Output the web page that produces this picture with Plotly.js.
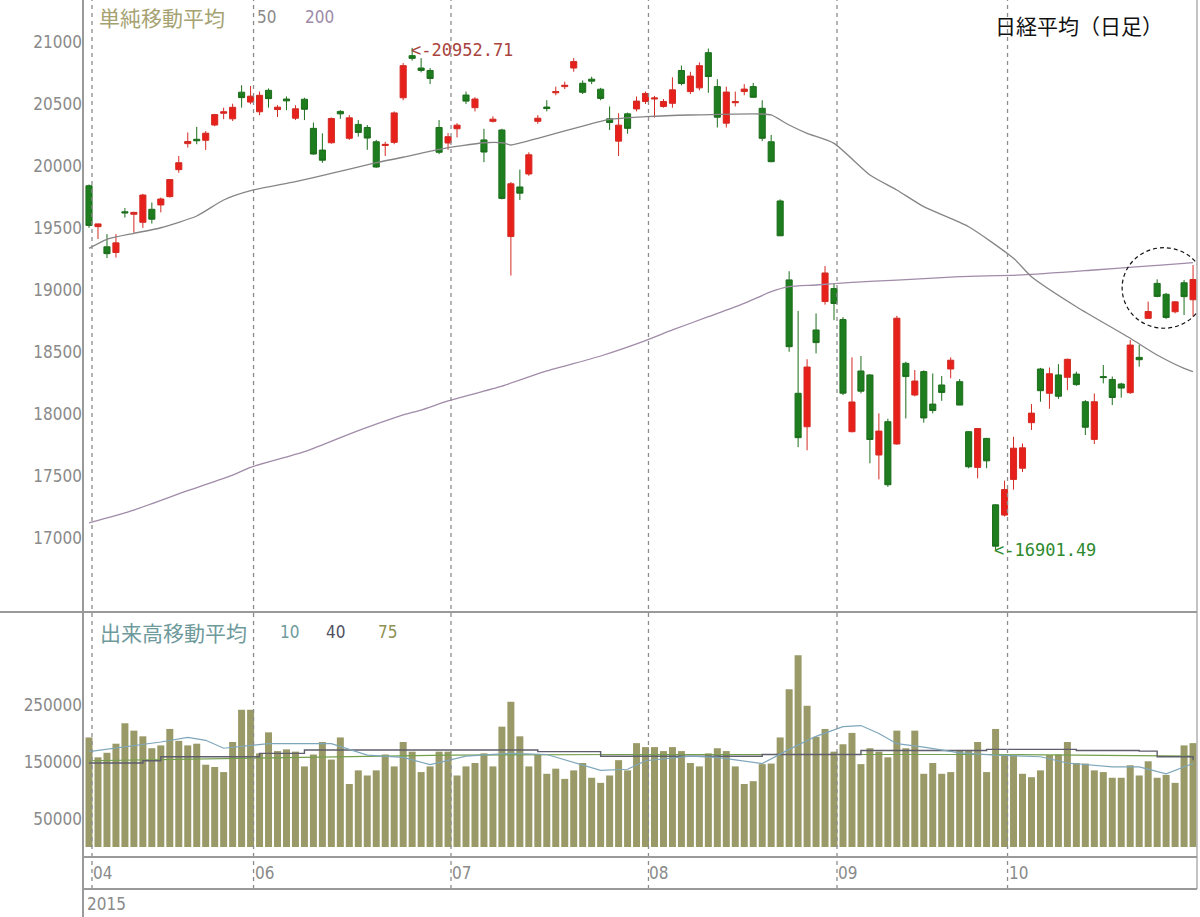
<!DOCTYPE html>
<html><head><meta charset="utf-8">
<script src="https://cdn.plot.ly/plotly-3.0.1.min.js"></script>
<style>html,body{margin:0;padding:0;background:#fff}#chart{width:1200px;height:917px}</style>
</head><body><div id="chart"></div>
<script>
// ---- trading days (category axis) ----
const tradingDays = {
  '2015-04': [30],
  '2015-05': [1,7,8,11,12,13,14,15,18,19,20,21,22,25,26,27,28,29],
  '2015-06': [1,2,3,4,5,8,9,10,11,12,15,16,17,18,19,22,23,24,25,26,29,30],
  '2015-07': [1,2,3,6,7,8,9,10,13,14,15,16,17,21,22,23,24,27,28,29,30,31],
  '2015-08': [3,4,5,6,7,10,11,12,13,14,17,18,19,20,21,24,25,26,27,28,31],
  '2015-09': [1,2,3,4,7,8,9,10,11,14,15,16,17,18,24,25,28,29,30],
  '2015-10': [1,2,5,6,7,8,9,13,14,15,16,19,20,21,22,23,26,27,28,29,30]
};
const dates = [];
Object.keys(tradingDays).forEach(m => tradingDays[m].forEach(d => dates.push(m + '-' + String(d).padStart(2,'0'))));

// ---- OHLC ----
const open  = [19840,19510,19347,19301,19630,19610,19545,19650,19685,19752,19970,20180,20215,20207,20330,20425,20380,20595,20515,
  20437,20610,20455,20540,20385,20538,20303,20128,20187,20440,20223,20335,20310,20195,20165,20190,20550,20890,20790,20770,20310,20185,
  20300,20572,20470,20210,20360,20290,19430,19830,19935,20360,20475,20590,20640,20790,20667,20700,20619,20380,20200,20420,20460,20520,
  20540,20480,20505,20770,20600,20630,20914,20640,20345,20510,20600,20640,20465,20195,19717,19080,18165,17895,18676,18905,19010,
  18760,17855,18345,18313,17667,17936,17756,18407,18151,18340,18078,18232,18361,18259,17855,17567,17801,17265,17182,
  17470,17560,17928,18361,18165,18313,18294,18320,18097,17793,18300,18276,18240,18170,18455,18770,19052,18964,18823,19057,18920];
const high  = [19850,19535,19450,19450,19660,19630,19775,19705,19745,19890,20080,20270,20315,20282,20420,20470,20502,20651,20645,
  20600,20625,20490,20560,20490,20550,20350,20263,20390,20450,20410,20370,20330,20210,20195,20440,20830,20952.71,20870,20790,20370,20265,
  20345,20600,20555,20300,20400,20300,19870,19970,20110,20410,20530,20640,20680,20870,20690,20720,20630,20480,20425,20430,20560,20600,
  20565,20540,20715,20810,20760,20835,20947,20700,20640,20600,20660,20670,20530,20250,19730,19150,18830,18440,18810,19192,19050,
  18780,18455,18466,18320,18003,17960,18790,18420,18353,18350,18325,18304,18455,18280,17860,17885,17805,17270,17460,
  17814,17760,18078,18370,18373,18400,18445,18340,18110,18163,18393,18300,18250,18595,18555,18905,19085,18975,18910,19080,19200];
const low   = [19500,19410,19256,19260,19583,19460,19500,19535,19625,19745,19945,20148,20175,20129,20320,20377,20363,20470,20498,
  20410,20470,20395,20450,20370,20370,20090,20025,20180,20380,20210,20236,20130,19985,20080,20175,20530,20850,20755,20660,20095,20130,
  20230,20500,20440,20030,20350,19730,19115,19725,19920,20340,20440,20570,20620,20760,20580,20660,20530,20290,20080,20260,20440,20500,
  20390,20470,20470,20650,20580,20610,20590,20310,20310,20480,20570,20550,20200,20030,19435,18500,17730,17705,18487,18880,18755,
  18150,17850,18165,17600,17470,17410,17750,17962,18140,17928,18003,18104,18286,18070,17560,17479,17560,16901.49,17170,
  17388,17530,17869,18097,18040,18120,18190,18225,17828,17756,18245,18070,18130,18160,18380,18765,18940,18765,18810,18797,18783];
const close = [19520,19532,19292,19379,19621,19625,19765,19570,19733,19890,20026,20197,20203,20264,20414,20437,20473,20551,20563,
  20570,20543,20474,20525,20461,20457,20096,20046,20383,20420,20388,20270,20225,19991,20174,20428,20809,20868,20771,20706,20110,20236,
  20329,20523,20540,20112,20377,19738,19856,19780,20090,20385,20463,20600,20651,20842,20594,20684,20545,20350,20329,20303,20523,20585,
  20548,20520,20614,20665,20725,20809,20721,20393,20596,20519,20620,20554,20223,20034,19436,18541,17807,18377,18574,19136,18890,
  18166,18095,18182,17792,17860,17427,18771,18300,18264,17966,18026,18172,18432,18070,17572,17881,17620,16931,17388,
  17722,17725,18005,18186,18323,18141,18439,18235,17891,18097,18292,18131,18207,18554,18436,18825,18947,18777,18903,18945,19083];

// ---- price moving averages ----
const ma50Idx = [0,2,5,8,12,15,18,23,27,32,35,39,44,46,47,50,55,58,62,67,75,76,78,80,83,87,90,93,98,103,105,110,116,119,122,123];
const ma50Val = [19335,19408,19456,19501,19596,19725,19800,19873,19940,20026,20070,20134,20187,20187,20169,20223,20322,20376,20397,20411,20419,20411,20330,20263,20182,19927,19806,19671,19509,19254,19106,18864,18609,18474,18366,18340];
const ma200Idx = [0,5,11,16,18,24,29,35,37,40,46,51,57,62,65,69,73,76,78,81,85,90,97,104,112,117,122,123];
const ma200Val = [17120,17223,17379,17505,17568,17694,17836,17990,18030,18103,18223,18345,18466,18590,18676,18783,18891,18985,19025,19039,19060,19079,19106,19120,19160,19187,19214,19220];

// ---- volume (thousands) ----
const volumeK = [193,158,166,182,218,205,195,174,179,208,187,179,182,145,141,132,185,242,242,165,
  202,169,172,168,142,163,185,154,193,111,135,126,135,163,142,185,168,132,142,168,
  168,126,142,148,165,142,212,256,195,142,163,129,138,120,135,148,122,113,126,153,
  135,183,176,176,169,176,169,148,142,165,174,169,142,111,116,146,147,193,278,338,
  249,194,208,168,181,201,146,174,168,158,205,174,205,129,148,129,132,171,171,185,
  132,208,163,163,129,123,135,162,163,185,148,147,135,132,122,122,144,126,151,122,
  127,113,179,183];
const vma10Idx = [0,5,8,11,13,15,20,27,31,35,38,42,47,51,55,57,60,62,67,70,75,78,81,84,86,88,90,93,97,101,106,109,114,117,120,123];
const vma10Val = [168,178,185,193,188,174,182,182,162,158,145,160,165,163,145,135,137,152,160,158,147,172,195,212,214,200,182,176,166,162,159,148,141,141,129,147];
const vma40Idx = [0,4,6,8,15,19,24,44,50,57,70,75,85,86,100,110,117,119,123];
const vma40Val = [148,148,152,159,159,165,171,171,168,160,160,163,163,170,172,170,169,159,153];
const vma75Idx = [0,20,40,60,80,100,123];
const vma75Val = [152,157,162,163,163,163,160];

// ---- labels ----
const monthLabels = ['04','06','07','08','09','10'];
const monthLineAfterIdx = [0,18,40,62,83,102];
const yearLabel = '2015';
const priceTicks = [17000,17500,18000,18500,19000,19500,20000,20500,21000];
const volumeTicks = [50000,150000,250000];
const highNote = {idx: 36, value: 20952.71};
const lowNote = {idx: 101, value: 16901.49};

// ---- geometry helpers (pixels -> paper) ----
const L = 83, R = 3, T = 0, B = 60, W = 1200, H = 917;
const PW = W - L - R, PH = H - T - B;
const px = p => (p - L) / PW;
const py = p => (H - B - p) / PH;
const split = py(612);

const xs = a => a.map(i => dates[i]);
const K = a => a.map(v => v * 1000);

const traces = [
  {type:'scatter', mode:'lines', x: xs(ma200Idx), y: ma200Val, xaxis:'x', yaxis:'y',
   line:{color:'#a08ca8', width:1.3, shape:'spline', smoothing:0.6}, hoverinfo:'skip'},
  {type:'scatter', mode:'lines', x: xs(ma50Idx), y: ma50Val, xaxis:'x', yaxis:'y',
   line:{color:'#858585', width:1.3, shape:'spline', smoothing:0.6}, hoverinfo:'skip'},
  {type:'candlestick', x: dates, open, high, low, close, xaxis:'x', yaxis:'y',
   increasing:{line:{color:'#d42a22', width:1}, fillcolor:'#e8201c'},
   decreasing:{line:{color:'#1c6e1c', width:1}, fillcolor:'#1e7d1e'},
   whiskerwidth:0, hoverinfo:'skip'},
  {type:'bar', x: dates, y: K(volumeK), xaxis:'x', yaxis:'y2', width:0.78,
   marker:{color:'#9a9a68', line:{width:0}}, hoverinfo:'skip'},
  {type:'scatter', mode:'lines', x: xs(vma75Idx), y: K(vma75Val), xaxis:'x', yaxis:'y2',
   line:{color:'#74a04c', width:1.2}, hoverinfo:'skip'},
  {type:'scatter', mode:'lines', x: xs(vma40Idx), y: K(vma40Val), xaxis:'x', yaxis:'y2',
   line:{color:'#5e5e6c', width:1.4, shape:'hv'}, hoverinfo:'skip'},
  {type:'scatter', mode:'lines', x: xs(vma10Idx), y: K(vma10Val), xaxis:'x', yaxis:'y2',
   line:{color:'#7ea6ba', width:1.2}, hoverinfo:'skip'}
];

const gridCol = '#9a9a9a';
const shapes = [];
monthLineAfterIdx.forEach(i => {
  shapes.push({type:'line', xref:'x', yref:'paper', x0:i+0.33, x1:i+0.33, y0:py(889), y1:1,
    line:{color:'#8c8c8c', width:1.3, dash:'4px,4px'}, layer:'above'});
});
shapes.push({type:'line', xref:'paper', yref:'paper', x0:0, x1:0, y0:py(917), y1:1, line:{color:gridCol, width:2}});
shapes.push({type:'line', xref:'paper', yref:'paper', x0:1, x1:1, y0:py(889), y1:1, line:{color:'#b0b0b0', width:1.5}});
shapes.push({type:'line', xref:'paper', yref:'paper', x0:px(0), x1:1, y0:split, y1:split, line:{color:gridCol, width:2}});
shapes.push({type:'line', xref:'paper', yref:'paper', x0:0, x1:1, y0:py(857), y1:py(857), line:{color:gridCol, width:2}});
shapes.push({type:'line', xref:'paper', yref:'paper', x0:0, x1:1, y0:py(889), y1:py(889), line:{color:gridCol, width:2}});
// highlight ellipse around the last sessions
shapes.push({type:'circle', xref:'x', yref:'y', x0:115.1, x1:124.4, y0:18690, y1:19340,
  line:{color:'#111', width:1.2, dash:'4px,3px'}});

const cjk = '"Noto Sans CJK JP", "Noto Sans CJK SC", sans-serif';
const num = '"DejaVu Sans Condensed", "DejaVu Sans", sans-serif';
const mono = '"DejaVu Sans Mono", monospace';
const ann = (text, x, y, color, size, family, xanchor) => ({
  text, xref:'paper', yref:'paper', x: px(x), y: py(y), xanchor: xanchor || 'left', yanchor:'middle',
  showarrow:false, font:{color, size, family}, borderpad:0});

const annotations = [
  ann('単純移動平均', 98, 17, '#a6a272', 21, cjk),
  ann('50', 256, 17, '#8a8a8a', 17, num),
  ann('200', 304, 17, '#9c8aa8', 17, num),
  ann('日経平均（日足）', 1164, 25, '#111', 21, cjk, 'right'),
  ann('出来高移動平均', 99, 632, '#6e9a9c', 21, cjk),
  ann('10', 279, 632, '#6e9a9c', 17, num),
  ann('40', 325, 632, '#505060', 17, num),
  ann('75', 377, 632, '#8e9050', 17, num),
  ann(yearLabel, 86, 904, '#8a8a8a', 17, num),
  {text:'<-' + highNote.value.toFixed(2), xref:'x', yref:'y', x: highNote.idx, y: highNote.value,
   xanchor:'left', yanchor:'middle', xshift:-2, yshift:-2, showarrow:false, borderpad:0,
   font:{color:'#a8443c', size:17, family:mono}},
  {text:'<-' + lowNote.value.toFixed(2), xref:'x', yref:'y', x: lowNote.idx, y: lowNote.value,
   xanchor:'left', yanchor:'middle', xshift:-3, showarrow:false, borderpad:0,
   font:{color:'#2e8a2e', size:17, family:mono}}
];
monthLineAfterIdx.forEach((i, k) => {
  annotations.push({text: monthLabels[k], xref:'x', yref:'paper', x: i + 0.33, y: py(873),
    xanchor:'left', yanchor:'middle', xshift:0, showarrow:false, borderpad:0,
    font:{color:'#8a8a8a', size:17, family:num}});
});

const layout = {
  width: W, height: H, margin:{l:L, r:R, t:T, b:B, pad:0},
  paper_bgcolor:'#fff', plot_bgcolor:'#fff', showlegend:false,
  boxgap:0.2, boxgroupgap:0.15, bargap:0.2,
  xaxis:{type:'category', categoryorder:'array', categoryarray: dates,
    range:[-0.67, 123.44], domain:[0,1], anchor:'y2',
    showticklabels:false, showgrid:false, zeroline:false, showline:false, ticks:'',
    rangeslider:{visible:false}, fixedrange:true},
  yaxis:{domain:[split, 1], range:[16400, 21339], anchor:'x', tickvals: priceTicks,
    ticktext: priceTicks.map(String),
    showgrid:false, zeroline:false, showline:false, ticks:'',
    tickfont:{color:'#8a8a8a', size:17, family:num}, fixedrange:true},
  yaxis2:{domain:[0, split], range:[-17600, 414000], anchor:'x', tickvals: volumeTicks,
    ticktext: volumeTicks.map(String), showgrid:false, zeroline:false, showline:false, ticks:'',
    tickfont:{color:'#8a8a8a', size:17, family:num}, fixedrange:true},
  shapes, annotations, hovermode:false
};

Plotly.newPlot('chart', traces, layout, {staticPlot:true, displayModeBar:false});
</script></body></html>
